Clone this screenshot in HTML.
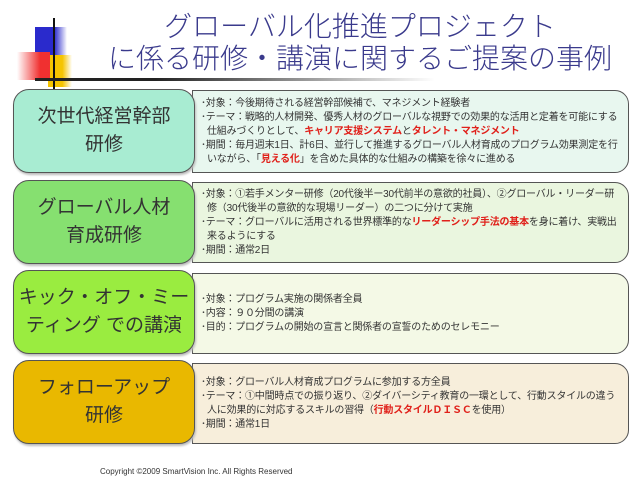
<!DOCTYPE html>
<html><head><meta charset="utf-8"><style>
*{margin:0;padding:0;box-sizing:border-box}
body{width:641px;height:481px;background:#fff;position:relative;overflow:hidden;font-family:"Liberation Sans","Noto Sans CJK JP",sans-serif}
.a{position:absolute}
.t{left:80px;width:560px;text-align:center;color:#3a3a8c;font-size:28px;line-height:32px;white-space:nowrap;font-weight:300}
.L{position:absolute;left:13px;width:182px;height:84px;border:1.5px solid #555;border-radius:16px;display:flex;align-items:center;justify-content:center;text-align:center;font-size:19px;line-height:28px;color:#333;box-shadow:1px 2px 2px #bbb;white-space:nowrap}
.R{position:absolute;left:192px;width:437px;border:1px solid #555;border-radius:0 14px 14px 0;font-size:10px;line-height:14px;color:#333;padding:0 8px 0 8px;display:flex;flex-direction:column;justify-content:center;letter-spacing:-0.2px}
.r{color:#e0201a;font-weight:bold}
p{padding-left:6px;text-indent:-6px}
</style></head><body>
<div class="a" style="left:35px;top:27px;width:32px;height:30px;background:linear-gradient(90deg,#2a2acc 60%,#fff)"></div>
<div class="a" style="left:48px;top:55px;width:24px;height:32px;background:linear-gradient(90deg,#f5c400 60%,#fff)"></div>
<div class="a" style="left:17px;top:52px;width:33px;height:28px;background:linear-gradient(90deg,#fff,#f03030 70%)"></div>
<div class="a" style="left:53px;top:18px;width:2px;height:72px;background:#111"></div>
<div class="a" style="left:35px;top:78px;width:400px;height:3px;background:linear-gradient(90deg,#222 30%,#fff)"></div>
<div class="a t" style="top:11px">グローバル化推進プロジェクト</div>
<div class="a t" style="top:43px">に係る研修・講演に関するご提案の事例</div>

<div class="R" style="top:90px;height:83px;background:#e8f7ef">
<p>･対象：今後期待される経営幹部候補で、マネジメント経験者</p>
<p>･テーマ：戦略的人材開発、優秀人材のグローバルな視野での効果的な活用と定着を可能にする仕組みづくりとして、<span class="r">キャリア支援システム</span>と<span class="r">タレント・マネジメント</span></p>
<p>･期間：毎月週末1日、計6日、並行して推進するグローバル人材育成のプログラム効果測定を行いながら、「<span class="r">見える化</span>」を含めた具体的な仕組みの構築を徐々に進める</p></div>
<div class="R" style="top:182px;height:81px;background:#eaf6df">
<p>･対象：①若手メンター研修（20代後半ー30代前半の意欲的社員）、②グローバル・リーダー研修（30代後半の意欲的な現場リーダー）の二つに分けて実施</p>
<p>･テーマ：グローバルに活用される世界標準的な<span class="r">リーダーシップ手法の基本</span>を身に着け、実戦出来るようにする</p>
<p>･期間：通常2日</p></div>
<div class="R" style="top:273px;height:81px;background:#f4f9e6">
<p>･対象：プログラム実施の関係者全員</p>
<p>･内容：９０分間の講演</p>
<p>･目的：プログラムの開始の宣言と関係者の宣誓のためのセレモニー</p></div>
<div class="R" style="top:363px;height:81px;background:#f7eedb">
<p>･対象：グローバル人材育成プログラムに参加する方全員</p>
<p>･テーマ：①中間時点での振り返り、②ダイバーシティ教育の一環として、行動スタイルの違う人に効果的に対応するスキルの習得（<span class="r">行動スタイルＤＩＳＣ</span>を使用）</p>
<p>･期間：通常1日</p></div>

<div class="L" style="top:89px;background:#a8ecd2">次世代経営幹部<br>研修</div>
<div class="L" style="top:180px;background:#86e070">グローバル人材<br>育成研修</div>
<div class="L" style="top:270px;background:#9aec40">キック・オフ・ミー<br>ティング での講演</div>
<div class="L" style="top:360px;background:#e9b800">フォローアップ<br>研修</div>

<div class="a" style="left:100px;top:467px;font-size:8px;color:#333">Copyright ©2009 SmartVision Inc. All Rights Reserved</div>
</body></html>
